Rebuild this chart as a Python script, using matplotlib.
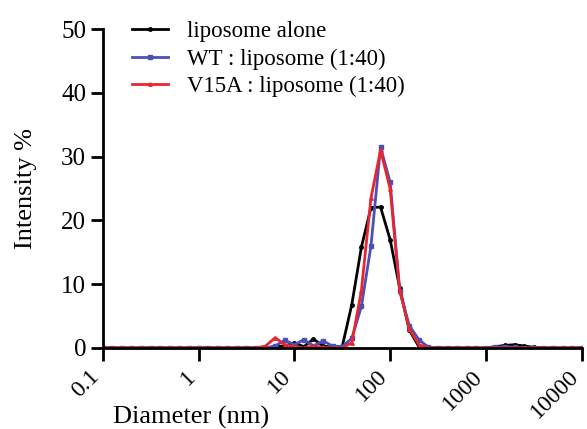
import numpy as np
import matplotlib
matplotlib.use('Agg')
from matplotlib import pyplot as plt
from matplotlib import transforms

plt.rcParams['font.family'] = ['Liberation Serif', 'DejaVu Serif']

# size bins, 10 per decade from 0.1 to 10000 nm
diameter = np.logspace(-1, 4, 51)

liposome = [0, 0, 0, 0, 0, 0, 0, 0, 0, 0,
            0, 0, 0, 0, 0, 0, 0, 0, 0.2, 0.3,
            0.8, 0.2, 1.4, 0.3, 0.1, 0.2, 6.8, 15.8, 22.0, 22.1,
            17.0, 9.4, 2.8, 0.2, 0, 0, 0, 0, 0, 0,
            0, 0.2, 0.4, 0.5, 0.3, 0.1, 0, 0, 0, 0, 0]
wt = [0, 0, 0, 0, 0, 0, 0, 0, 0, 0,
      0, 0, 0, 0, 0, 0, 0, 0, 0.3, 1.2,
      0.5, 1.3, 0.3, 1.1, 0.3, 0.2, 1.5, 6.5, 16.0, 31.5,
      26.0, 9.0, 3.5, 1.3, 0.1, 0, 0, 0, 0, 0,
      0, 0.1, 0.2, 0.1, 0, 0, 0, 0, 0, 0, 0]
v15a = [0, 0, 0, 0, 0, 0, 0, 0, 0, 0,
        0, 0, 0, 0, 0, 0, 0, 0.3, 1.6, 0.5,
        0.2, 0, 0.3, 0.1, 0, 0, 0.8, 9.0, 23.5, 31.0,
        25.0, 9.0, 3.0, 0.5, 0, 0, 0, 0, 0, 0,
        0, 0, 0, 0, 0, 0, 0, 0, 0, 0, 0]

xticks = [0.1, 1, 10, 100, 1000, 10000]
xticklabels = ['0.1', '1', '10', '100', '1000', '10000']

labels = ['liposome alone', 'WT : liposome (1:40)', 'V15A : liposome (1:40)']
colors = ['black', '#4b4fb8', '#e8262f']
markers = ['o', 's', '^']

fig = plt.figure(figsize=(5.87, 4.29), dpi=100)
ax = fig.add_axes([0.175, 0.189, 0.816, 0.743])

for y, lab, c, m in zip([liposome, wt, v15a], labels, colors, markers):
    ax.plot(diameter, y, color=c, marker=m, markersize=2.5, linewidth=2, label=lab)

ax.set_xscale('log')
ax.set_xlim(0.1, 10000)
ax.set_ylim(0, 50)
ax.set_yticks([0, 10, 20, 30, 40, 50])
ax.set_xticks(xticks)
ax.set_xticklabels([])
ax.xaxis.set_minor_locator(matplotlib.ticker.NullLocator())

# rotated x labels drawn by hand, a little left of and below their ticks
off = transforms.ScaledTranslation(-10 / 72, -13 / 72, fig.dpi_scale_trans)
trans = ax.get_xaxis_transform() + off
for xv, s in zip(xticks, xticklabels):
    ax.text(xv, 0, s, transform=trans, rotation=45, ha='right', va='top',
            rotation_mode='anchor', fontsize=17, clip_on=False)

for s in ['top', 'right']:
    ax.spines[s].set_visible(False)
for s in ['left', 'bottom']:
    ax.spines[s].set_linewidth(2)
ax.tick_params(width=2, length=9, labelsize=18)
ax.tick_params(axis='y', pad=3)

ax.set_ylabel('Intensity %', fontsize=19, labelpad=17)
fig.text(0.325, 0.012, 'Diameter (nm)', fontsize=19, ha='center')

ax.legend(loc='upper left', bbox_to_anchor=(0.21, 0.972), bbox_transform=fig.transFigure,
          frameon=False, fontsize=16.5, handlelength=1.55, labelspacing=0.28,
          handletextpad=0.85, borderaxespad=0)

fig.savefig('out.png', dpi=100)
